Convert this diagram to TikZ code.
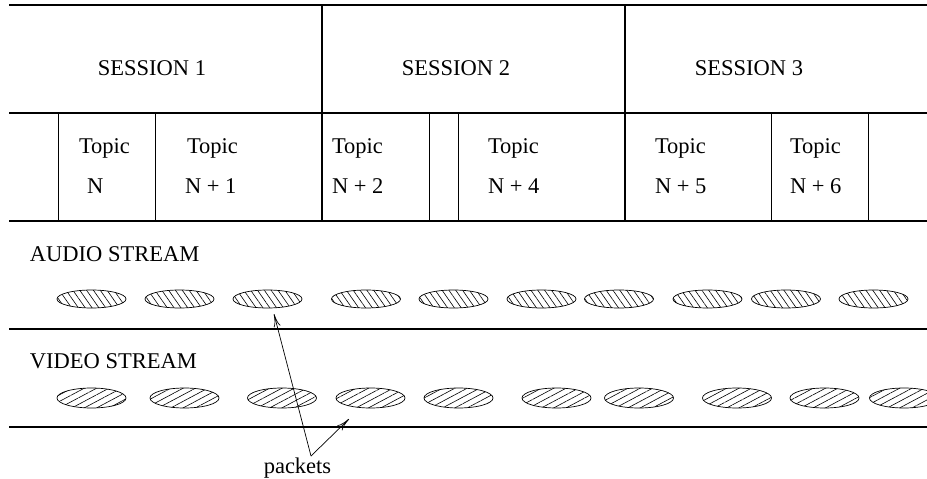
\documentclass[tikz,border=0pt]{standalone}
\usepackage{fontspec}
\setmainfont{Liberation Serif}
\usetikzlibrary{shapes.geometric,patterns.meta,arrows.meta}
\begin{document}
\begin{tikzpicture}[x=1pt,y=-1pt,
  every node/.style={font=\fontsize{22.5}{27}\selectfont, inner sep=0pt, outer sep=0pt},
  thickline/.style={line width=1.6pt},
  thinline/.style={line width=0.8pt},
  txt/.style={anchor=base west},
  audiopkt/.style={ellipse, draw, line width=0.7pt, minimum width=69pt, minimum height=18pt,
     pattern={Lines[angle=-55,distance=5.6pt,line width=0.6pt]}},
  videopkt/.style={ellipse, draw, line width=0.7pt, minimum width=69pt, minimum height=20pt,
     pattern={Lines[angle=28,distance=5.8pt,line width=0.6pt]}},
  pktarrow/.style={line width=0.7pt, -{To[length=13pt,width=7pt]}}
]
\useasboundingbox (0,0) rectangle (927,479);
\clip (0,0) rectangle (927,479);
% horizontal rules
\draw[thickline] (9,5) -- (927,5);
\draw[thickline] (9,113) -- (927,113);
\draw[thickline] (9,221) -- (927,221);
\draw[thickline] (9,329) -- (927,329);
\draw[thickline] (9,427) -- (927,427);
% session dividers
\draw[thickline] (322,5) -- (322,221);
\draw[thickline] (625,5) -- (625,221);
% topic dividers
\foreach \x in {58,155,429,458,771,868} \draw[thinline] (\x,113) -- (\x,221);
% session labels
\node[anchor=base] (s1) at (152,75) {SESSION 1};
\node[anchor=base] (s2) at (456,75) {SESSION 2};
\node[anchor=base] (s3) at (749,75) {SESSION 3};
% topic labels
\node[txt] (t1a) at (79,153) {Topic};
\node[txt] (t1b) at (87,193) {N};
\node[txt] (t2a) at (187,153) {Topic};
\node[txt] (t2b) at (185,193) {N + 1};
\node[txt] (t3a) at (332,153) {Topic};
\node[txt] (t3b) at (332,193) {N + 2};
\node[txt] (t4a) at (488,153) {Topic};
\node[txt] (t4b) at (488,193) {N + 4};
\node[txt] (t5a) at (655,153) {Topic};
\node[txt] (t5b) at (655,193) {N + 5};
\node[txt] (t6a) at (790,153) {Topic};
\node[txt] (t6b) at (790,193) {N + 6};
% stream labels
\node[txt] (audio) at (30,261) {AUDIO STREAM};
\node[txt] (video) at (30,368) {VIDEO STREAM};
% audio packets
\foreach \x [count=\i] in {91.5,179.5,267.5,366,453.5,541.5,619,707.5,786,873.5}
  \node[audiopkt] (a\i) at (\x,299) {};
% video packets
\foreach \x [count=\i] in {91.5,184.5,282,370.5,458.5,556.5,639,737,824.5,904}
  \node[videopkt] (v\i) at (\x,398) {};
% packets label and arrows
\node[anchor=base] (pk) at (297.5,473) {packets};
\coordinate (vx) at (311,456);
\coordinate (ta) at (274,314);
\coordinate (tv) at (349,419);
\draw[pktarrow] (vx) -- (ta);
\draw[pktarrow] (vx) -- (tv);
\end{tikzpicture}
\end{document}
